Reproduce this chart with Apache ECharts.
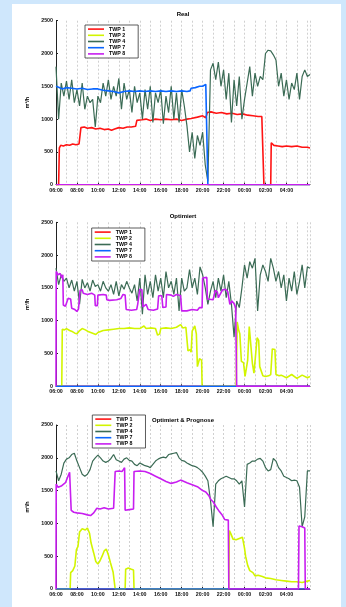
<!DOCTYPE html>
<html>
<head>
<meta charset="utf-8">
<script src="https://cdn.jsdelivr.net/npm/echarts@6/dist/echarts.min.js"></script>
<style>
  html, body { margin: 0; padding: 0; background: #cfe7fc; }
  #chart { width: 346px; height: 607px; }
</style>
</head>
<body>
<div id="chart"></div>
<script>
// hours after 06:00
const names = ['TWP 1', 'TWP 2', 'TWP 4', 'TWP 7', 'TWP 8'];
const colors = ['#ff1414', '#d2f500', '#3b6b55', '#0a66ff', '#c81ef0'];
const titles = ['Real', 'Optimiert', 'Optimiert & Prognose'];
const yTicks = [0, 500, 1000, 1500, 2000, 2500];
const step = 0.25; // sample spacing of the TWP 4 lists, hours

const zeroLine = [[0, 0], [24.25, 0]];

// ---- Real ----
const realTwp1 = [[0,0],[0.25,0],[0.32,560],[0.45,600],[0.7,590],[1.0,610],[1.3,600],[1.6,620],[1.9,610],[2.2,620],[2.3,640],
  [2.38,870],[2.7,880],[3.0,860],[3.4,870],[3.8,850],[4.2,860],[4.6,840],[5.0,850],[5.3,830],[5.6,850],[6.0,870],[6.4,860],
  [6.8,880],[7.2,880],[7.6,890],[7.72,980],[8.2,990],[8.6,1000],[9.0,980],[9.5,1000],[10.0,990],[10.5,1000],[11.0,990],
  [11.5,1000],[12.0,980],[12.5,1000],[12.9,1010],[13.0,1040],[13.5,1030],[14.0,1050],[14.3,1020],[14.45,1100],[14.8,1110],
  [15.3,1090],[15.8,1100],[16.3,1080],[16.8,1090],[17.3,1070],[17.8,1080],[18.3,1060],[18.8,1050],[19.3,1040],[19.65,1040],
  [19.85,0],[20.5,0],[20.55,640],[20.8,600],[21.2,590],[21.6,580],[22.0,590],[22.5,580],[23.0,590],[23.5,570],[24.0,570],[24.25,560]];
const realTwp4 = [
  1800, 1000, 1550, 1350,  1580, 1300, 1600, 1250,  1450, 1200, 1550, 1150,  1350, 1250, 1300, 880,
  1350, 1250, 1550, 1350,  1600, 1300, 1500, 1350,  1620, 1150, 1550, 1300,  1450, 1100, 1500, 1250,
  1400, 1000, 1450, 1150,  1500, 950, 1400, 1250,   1450, 930, 1350, 1100,   1500, 1000, 1400, 950,
  1450, 1200, 900, 500,    800, 400, 750, 600,      800, 300, 50, 1750,      1850, 1600, 1870, 1500,
  1750, 1300, 1700, 950,   1600, 1200, 1650, 1000,  1300, 1550, 1800, 1350,  1700, 1500, 1650, 1600,
  2000, 2050, 2040, 1980,  1900, 1500, 1700, 1350,  1600, 1300, 1550, 1450,  1700, 1300, 1650, 1750,
  1650, 1680];
const realTwp7 = [[0,1500],[0.3,1480],[0.6,1460],[1.0,1480],[1.5,1470],[2.0,1460],[2.5,1470],[3.0,1450],[3.5,1460],
  [4.0,1460],[4.5,1440],[5.0,1430],[5.5,1420],[6.0,1400],[6.5,1420],[7.0,1430],[7.5,1420],[8.0,1430],[8.5,1420],
  [9.0,1430],[9.5,1420],[10.0,1430],[10.5,1420],[11.0,1430],[11.5,1420],[12.0,1430],[12.5,1420],[12.8,1430],
  [12.9,1470],[13.3,1480],[13.7,1500],[14.0,1500],[14.3,1530],[14.45,1560],[14.5,0],[24.25,0]];

// ---- Optimiert ----
const optTwp2 = [[0,0],[0.55,0],[0.6,870],[0.8,860],[1.0,880],[1.3,850],[1.6,830],[1.8,810],[2.0,800],[2.2,840],[2.5,880],
  [2.8,860],[3.0,840],[3.5,810],[3.8,790],[4.0,820],[4.5,850],[5.0,860],[5.5,870],[6.0,880],[6.5,880],[7.0,890],[7.5,880],
  [8.0,880],[8.4,920],[8.6,880],[9.0,890],[9.5,880],[9.7,780],[9.9,800],[10.0,880],[10.5,890],[11.0,880],[11.5,900],
  [11.9,940],[12.1,890],[12.4,900],[12.6,540],[12.8,560],[12.9,520],[13.0,840],[13.25,920],[13.4,800],[13.5,300],
  [13.6,320],[13.7,420],[13.9,400],[13.95,0],[17.2,0],[17.3,980],[17.45,850],[17.55,800],[17.7,380],[17.9,360],
  [18.05,150],[18.2,160],[18.3,400],[18.45,910],[18.6,900],[18.75,350],[18.9,200],[19.0,220],[19.2,740],[19.35,700],
  [19.45,300],[19.6,300],[19.75,160],[20.0,150],[20.3,160],[20.5,180],[20.65,570],[20.9,560],[21.0,180],[21.3,160],
  [21.5,170],[22.0,130],[22.5,180],[23.0,120],[23.5,170],[24.0,130],[24.25,150]];
const optTwp4 = [
  1800, 1550, 1700, 1600,  1650, 1500, 1620, 1450,  1600, 1250, 1630, 1500,  1580, 1450, 1620, 1520,
  1550, 1450, 1600, 1500,  1450, 1550, 1400, 1600,  1380, 1550, 1480, 1600,  1500, 1420, 1550, 1300,
  1650, 1100, 1700, 1400,  1600, 1350, 1700, 1450,  1650, 1350, 1750, 1500,  1600, 1400, 1650, 1150,
  1650, 1450, 1500, 1780,  1500, 1650, 1400, 1820,  1700, 1500, 1250, 1450,  1600, 1350, 1650, 1450,
  1700, 1350, 1600, 1250,  750, 1300, 1200, 1500,   1850, 1650, 1900, 1800,  1950, 1150, 1700, 1850,
  1750, 1600, 1950, 1800,  1600, 1750, 1500, 1700,  1300, 1650, 1450, 1750,  1400, 1600, 1850, 1500,
  1820, 1800];
const optTwp8 = [[0,0],[0.02,1750],[0.2,1700],[0.4,1720],[0.55,1650],[0.65,1700],[0.7,1240],[0.9,1220],[1.05,1250],
  [1.15,1340],[1.4,1330],[1.5,1190],[1.8,1170],[2.0,1140],[2.15,1180],[2.3,1460],[2.5,1470],[2.6,1420],[3.0,1400],
  [3.4,1420],[3.7,1390],[3.75,1230],[3.95,1230],[4.0,1390],[4.5,1400],[4.8,1390],[4.85,1320],[5.1,1310],[5.2,1330],
  [5.8,1320],[6.2,1340],[6.4,1400],[6.6,1390],[6.7,1170],[7.2,1160],[7.7,1170],[7.8,1250],[8.0,1480],[8.2,1470],
  [8.3,1210],[8.6,1250],[8.8,1170],[9.3,1160],[9.7,1180],[9.8,1380],[10.1,1380],[10.2,1200],[10.5,1210],[10.55,1400],
  [11.0,1390],[11.2,1370],[11.5,1400],[11.9,1380],[12.0,1150],[12.5,1150],[13.0,1170],[13.5,1160],[13.7,1200],
  [13.95,1200],[14.0,1650],[14.4,1660],[14.45,1330],[15.0,1320],[15.2,1460],[15.4,1440],[15.5,1350],[15.9,1470],
  [16.2,1480],[16.4,1440],[16.6,1250],[16.8,1300],[17.0,1260],[17.15,1200],[17.25,0],[24.25,0]];

// ---- Optimiert & Prognose ----
const progTwp2 = [[0,0],[1.35,0],[1.4,250],[1.6,280],[1.8,350],[1.95,600],[2.1,650],[2.25,870],[2.5,920],[2.8,900],
  [3.0,930],[3.2,850],[3.35,700],[3.6,550],[3.8,420],[4.0,380],[4.2,430],[4.4,500],[4.6,580],[4.8,610],[5.0,520],
  [5.2,400],[5.45,260],[5.6,250],[5.65,0],[6.6,0],[6.65,300],[6.9,320],[7.2,300],[7.4,290],[7.45,0],[16.5,0],
  [16.55,890],[16.7,840],[16.9,760],[17.2,750],[17.5,770],[17.8,790],[18.0,620],[18.1,500],[18.3,360],[18.5,280],
  [18.8,250],[19.0,200],[19.3,210],[19.7,190],[20.0,170],[20.5,160],[21.0,140],[21.5,130],[22.0,120],[22.5,110],
  [23.0,110],[23.5,100],[24.0,120],[24.25,130]];
const progTwp4 = [
  1800, 1650, 1750, 1920,  1980, 2000, 2050, 2070,  1950, 1850, 1750, 1720,  1750, 1820, 1950, 2000,
  2040, 2000, 1950, 1930,  1950, 1990, 2050, 1970,  1950, 1930, 1980, 2000,  1960, 1950, 1900, 1880,
  1920, 1900, 1880, 1870,  1850, 1900, 1950, 1980,  2000, 2010, 2000, 2050,  2060, 2070, 2080, 2000,
  1960, 1950, 1920, 1900,  1880, 1870, 1850, 1820,  1780, 1720, 1650, 1350,  950, 1600, 1650, 1680,
  1700, 1720, 1700, 1680,  1680, 1650, 1600, 1650,  1250, 1900, 1920, 1950,  1950, 1980, 1990, 1950,
  1850, 1800, 1820, 1990,  1950, 1850, 1800, 1720,  1700, 1680, 1650, 1660,  1650, 1550, 950, 1100,
  1800, 1800];
const progTwp8 = [[0,0],[0.02,1600],[0.2,1550],[0.5,1570],[0.9,1620],[1.1,1700],[1.3,1780],[1.4,1800],[1.45,1200],
  [1.7,1170],[2.0,1160],[2.5,1150],[3.0,1130],[3.3,1120],[3.6,1160],[3.9,1230],[4.2,1220],[4.6,1240],[5.0,1220],
  [5.5,1230],[5.6,1230],[5.65,1790],[6.0,1800],[6.3,1790],[6.55,1850],[6.6,1200],[7.0,1210],[7.4,1220],[7.45,1790],
  [8.0,1800],[8.5,1790],[9.0,1760],[9.5,1720],[10.0,1680],[10.5,1640],[11.0,1610],[11.5,1630],[11.9,1660],[12.5,1620],
  [13.0,1590],[13.5,1560],[14.0,1500],[14.3,1480],[14.6,1420],[14.8,1360],[15.0,1330],[15.3,1250],[15.6,1180],
  [15.9,1120],[16.1,1060],[16.45,1050],[16.5,0],[23.15,0],[23.2,960],[23.5,950],[23.75,930],[23.8,0],[24.25,0]];

const toPairs = vals => vals.map((v, i) => [i * step, v]);

const panels = [
  [realTwp1, zeroLine, toPairs(realTwp4), realTwp7, zeroLine],
  [zeroLine, optTwp2, toPairs(optTwp4), zeroLine, optTwp8],
  [zeroLine, progTwp2, toPairs(progTwp4), zeroLine, progTwp8]
];

const gridTops = [20.7, 222.3, 425];
const gridH = 164;
const titleTops = [11.5, 213.5, 417];
const legendPos = [[85, 25], [91.7, 228], [92.3, 415]];

const lbl = { fontSize: 5.3, fontWeight: 'bold', color: '#111', fontFamily: 'Liberation Sans, Arial, sans-serif' };

const chart = echarts.init(document.getElementById('chart'), null, { renderer: 'canvas' });

// 06:00, 08:00 ... 04:00; nothing at the closing 06:00
const fmtHour = v => {
  if (v >= 24) return '';
  const h = (6 + v) % 24;
  return (h < 10 ? '0' : '') + h + ':00';
};

const series = [];
panels.forEach((lines, g) => {
  lines.forEach((data, k) => {
    series.push({
      name: names[k],
      type: 'line',
      xAxisIndex: g,
      yAxisIndex: g,
      data: data,
      symbol: 'none',
      color: colors[k],
      lineStyle: { width: k === 2 ? 1.2 : 1.6, color: colors[k] },
      z: 2 + k
    });
  });
});

const option = {
  animation: false,
  backgroundColor: '#cfe7fc',
  graphic: [{
    type: 'rect', z: -10, silent: true,
    shape: { x: 12, y: 4, width: 329, height: 610 },
    style: { fill: '#ffffff' }
  }],
  title: titles.map((t, g) => ({
    text: t, left: 183, top: titleTops[g], textAlign: 'center', padding: 0,
    textStyle: { fontSize: 6, fontWeight: 'bold', color: '#000', fontFamily: 'Liberation Sans, Arial, sans-serif' }
  })),
  legend: legendPos.map(p => ({
    data: names, left: p[0], top: p[1], orient: 'vertical', selectedMode: false,
    icon: 'rect', itemWidth: 16, itemHeight: 1.6, itemGap: 0,
    padding: [1, 13, 1, 3], borderColor: '#333', borderWidth: 0.8, backgroundColor: '#fff',
    textStyle: Object.assign({}, lbl, { lineHeight: 6.2, color: '#000' }),
    z: 10
  })),
  grid: gridTops.map(t => ({ left: 56, top: t, width: 254, height: gridH })),
  xAxis: gridTops.map((t, g) => ({
    type: 'value', gridIndex: g, min: 0, max: 24.25, interval: 2,
    axisLine: { show: true, lineStyle: { color: '#222', width: 1 } },
    axisTick: { show: true, inside: true, length: 2, lineStyle: { color: '#222' } },
    axisLabel: Object.assign({}, lbl, { margin: 3, formatter: fmtHour, showMaxLabel: false }),
    splitLine: { show: true, lineStyle: { color: '#c4c4c4', type: [2, 2], width: 0.8 } },
    minorTick: { show: false, splitNumber: 2 },
    minorSplitLine: { show: true, lineStyle: { color: '#c4c4c4', type: [2, 2], width: 0.8 } }
  })),
  yAxis: gridTops.map((t, g) => ({
    type: 'value', gridIndex: g, min: yTicks[0], max: yTicks[yTicks.length - 1], interval: 500,
    name: 'm³/h', nameLocation: 'middle', nameGap: 17, nameRotate: 90,
    nameTextStyle: Object.assign({}, lbl, { color: '#000' }),
    axisLine: { show: true, lineStyle: { color: '#222', width: 1 } },
    axisTick: { show: true, inside: true, length: 2, lineStyle: { color: '#222' } },
    axisLabel: Object.assign({}, lbl, { margin: 3, formatter: v => String(v) }),
    splitLine: { show: false }
  })),
  series: series
};

chart.setOption(option);
</script>
</body>
</html>
